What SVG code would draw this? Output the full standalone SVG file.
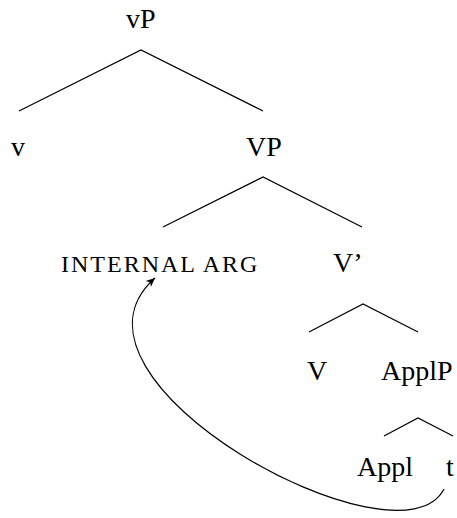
<svg xmlns="http://www.w3.org/2000/svg" width="457" height="518" viewBox="0 0 457 518">
<defs>
<marker id="ah" markerWidth="10" markerHeight="10" refX="9" refY="5" orient="auto" markerUnits="userSpaceOnUse">
<path d="M0,1 L9,5 L0,9 L2.5,5 Z" fill="#000"/>
</marker>
</defs>
<rect width="457" height="518" fill="#fff"/>
<g id="edges" stroke="#000" stroke-width="1.2" fill="none">
<path d="M19,111 L141,50 L263,111"/>
<path d="M163,227 L263,177 L362,227"/>
<path d="M309,332 L363,304 L418,332"/>
<path d="M384,436 L418,418 L453,436"/>
<path d="M444,489 C400,575 40,380 155,278" marker-end="url(#ah)"/>
</g>
<g id="vP"><text x="126" y="28" font-family="Liberation Serif, Times New Roman, serif" font-size="28">vP</text></g>
<g id="v"><text x="11" y="156" font-family="Liberation Serif, Times New Roman, serif" font-size="28">v</text></g>
<g id="VP"><text x="246" y="156" font-family="Liberation Serif, Times New Roman, serif" font-size="28">VP</text></g>
<g id="internal"><text x="61" y="272" font-family="Liberation Serif, Times New Roman, serif" font-size="24" letter-spacing="2">INTERNAL ARG</text></g>
<g id="Vbar"><text x="333" y="272" font-family="Liberation Serif, Times New Roman, serif" font-size="28">V&#x2019;</text></g>
<g id="V"><text x="307" y="380" font-family="Liberation Serif, Times New Roman, serif" font-size="28">V</text></g>
<g id="ApplP"><text x="381" y="380" font-family="Liberation Serif, Times New Roman, serif" font-size="28">ApplP</text></g>
<g id="Appl"><text x="357" y="476" font-family="Liberation Serif, Times New Roman, serif" font-size="28">Appl</text></g>
<g id="t"><text x="446" y="476" font-family="Liberation Serif, Times New Roman, serif" font-size="28">t</text></g>
</svg>
